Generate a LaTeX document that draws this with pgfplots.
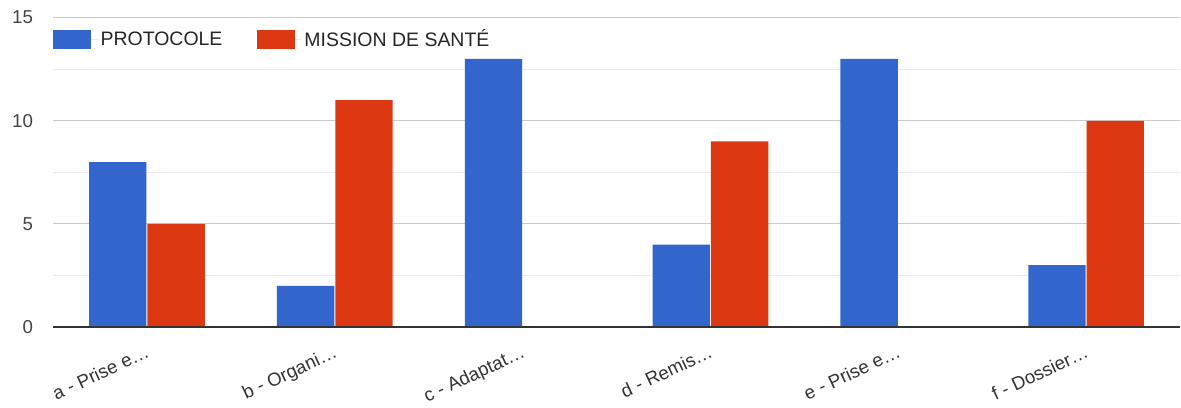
\documentclass[border=0pt]{standalone}
\usepackage{pgfplots}
\pgfplotsset{compat=1.18}
\usepackage{fontspec}
\setmainfont{Liberation Sans}
\definecolor{gblue}{HTML}{3366CC}
\definecolor{gred}{HTML}{DC3912}
\definecolor{ticktext}{HTML}{444444}
\begin{document}
\begin{tikzpicture}
\begin{axis}[
  scale only axis,
  width=845.25pt, height=232pt,
  xmin=-0.5, xmax=5.5, ymin=0, ymax=15,
  ybar=0.75pt, bar width=43pt,
  xtick=data,
  xticklabels={a - Prise e…, b - Organi…, c - Adaptat…, d - Remis…, e - Prise e…, f - Dossier…},
  ytick={0,5,10,15},
  minor ytick={2.5,7.5,12.5},
  ymajorgrids, yminorgrids,
  major grid style={color=black!20, line width=0.9pt},
  minor grid style={color=black!8, line width=0.9pt},
  axis line style={draw=none},
  tick style={draw=none},
  /pgf/number format/assume math mode=true,
  yticklabel style={font=\fontsize{14}{16}\selectfont, text=ticktext, xshift=-11.5pt},
  xticklabel style={font=\fontsize{14}{16}\selectfont, text=black!80, rotate=25, anchor=north east, inner sep=1pt, yshift=-6pt, xshift=-4pt},
  legend style={at={(0,1)}, anchor=north west, yshift=-5pt, xshift=-3pt, draw=none, fill=none,
    font=\fontsize{14.6}{16}\selectfont, text=black!85, legend columns=2,
    /tikz/every even column/.append style={column sep=24pt}},
  legend image code/.code={\fill[#1, draw=none] (0pt,-7pt) rectangle (28.5pt,7pt); \path (0pt,0pt) -- (33.5pt,0pt);},
]
\addplot[fill=gblue, draw=none] coordinates {(0,8) (1,2) (2,13) (3,4) (4,13) (5,3)};
\addplot[fill=gred, draw=none] coordinates {(0,5) (1,11) (2,0) (3,9) (4,0) (5,10)};
\legend{PROTOCOLE, MISSION DE SANTÉ}
\draw[black!80, line width=1.4pt] (rel axis cs:0,0) -- (rel axis cs:1,0);
\end{axis}
\pgfresetboundingbox
\path (current axis.south west) ++(-39.75pt,-60pt) coordinate (bl);
\path (current axis.north east) ++(0.75pt,13.25pt) coordinate (tr);
\path[use as bounding box] (bl) rectangle (tr);
\end{tikzpicture}
\end{document}
